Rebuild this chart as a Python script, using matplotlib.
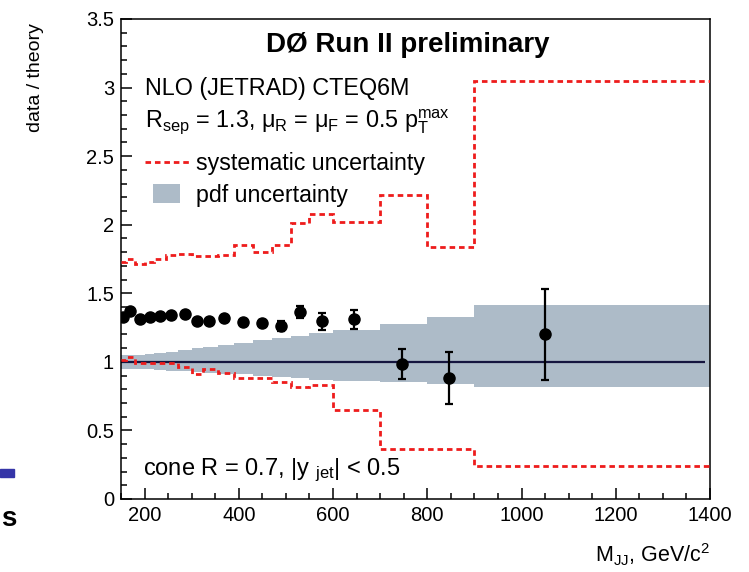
import numpy as np
import matplotlib
matplotlib.use('Agg')
import matplotlib.pyplot as plt
from matplotlib.ticker import MultipleLocator, FuncFormatter
from matplotlib.patches import Rectangle
from matplotlib.legend_handler import HandlerPatch

plt.rcParams['font.family'] = ['Liberation Sans', 'DejaVu Sans']
plt.rcParams['mathtext.fontset'] = 'custom'
plt.rcParams['mathtext.rm'] = 'Liberation Sans'
plt.rcParams['mathtext.it'] = 'Liberation Sans:italic'
plt.rcParams['mathtext.bf'] = 'Liberation Sans:bold'

# dijet mass bins (GeV/c^2)
edges = [150, 160, 180, 200, 220, 245, 270, 300, 325, 355, 390, 430, 470,
         510, 550, 600, 700, 800, 900, 1400]

# systematic uncertainty band (upper / lower)
sys_up = [1.73, 1.75, 1.71, 1.73, 1.75, 1.78, 1.79, 1.77, 1.77, 1.78, 1.85,
          1.80, 1.85, 2.01, 2.08, 2.02, 2.22, 1.84, 3.05]
sys_dn = [1.015, 1.035, 0.99, 0.99, 0.99, 0.99, 0.966, 0.91, 0.945, 0.92,
          0.88, 0.88, 0.85, 0.82, 0.83, 0.65, 0.365, 0.365, 0.24]

# pdf uncertainty band
pdf_up = [1.05, 1.05, 1.05, 1.055, 1.065, 1.075, 1.085, 1.10, 1.11, 1.125,
          1.14, 1.16, 1.175, 1.19, 1.21, 1.235, 1.277, 1.33, 1.416]
pdf_dn = [0.95, 0.95, 0.95, 0.945, 0.94, 0.935, 0.93, 0.925, 0.92, 0.915,
          0.91, 0.90, 0.89, 0.88, 0.87, 0.86, 0.855, 0.84, 0.82]

# data points
mass = [155, 169, 190, 211, 233, 256, 286, 311, 337, 369, 409, 449, 490,
        530, 577, 645, 746, 846, 1050]
ratio = [1.33, 1.37, 1.31, 1.33, 1.335, 1.34, 1.35, 1.30, 1.30, 1.32, 1.29,
         1.285, 1.26, 1.365, 1.295, 1.31, 0.985, 0.88, 1.20]
err = [0.01, 0.01, 0.01, 0.01, 0.01, 0.01, 0.01, 0.01, 0.01, 0.01, 0.015,
       0.02, 0.035, 0.045, 0.06, 0.07, 0.11, 0.19, 0.333]

fig = plt.figure(figsize=(7.49, 5.72), dpi=100)
ax = fig.add_axes([121/749, 73/572, 589/749, 480/572])

band = ax.stairs(pdf_up, edges, baseline=pdf_dn, fill=True,
                 color='#adbbc8', lw=0, label='pdf uncertainty', zorder=1)
ax.hlines(1.0, 150, 1390, color='#15153f', lw=1.6, zorder=2)
sysl = ax.stairs(sys_up, edges, baseline=None, color='#ee1c1c', lw=2.0,
                 ls=(0, (2.0, 1.4)), label='systematic uncertainty', zorder=3)
ax.stairs(sys_dn, edges, baseline=None, color='#ee1c1c', lw=2.0,
          ls=(0, (2.0, 1.4)), zorder=3)
ax.errorbar(mass, ratio, yerr=err, fmt='o', color='black', ms=8,
            elinewidth=1.6, capsize=3, capthick=1.6, zorder=4)

ax.set_xlim(150, 1400)
ax.set_ylim(0, 3.5)
ax.xaxis.set_major_locator(MultipleLocator(200))
ax.xaxis.set_minor_locator(MultipleLocator(50))
ax.yaxis.set_major_locator(MultipleLocator(0.5))
ax.yaxis.set_minor_locator(MultipleLocator(0.1))
ax.yaxis.set_major_formatter(FuncFormatter(lambda v, p: '%g' % v))
ax.tick_params(which='both', direction='in', top=False, right=False,
               labelsize=14.5, width=1.1)
ax.tick_params(which='major', length=8, pad=5)
ax.tick_params(which='minor', length=4.5)
for s in ax.spines.values():
    s.set_linewidth(1.1)

ax.set_xlabel(r'M$_{\rm JJ}$, GeV/c$^{2}$', fontsize=15.5, loc='right',
              labelpad=12)
ax.set_ylabel('data / theory', fontsize=14)
ax.yaxis.set_label_coords(-0.130, 0.877)

ax.text(0.486, 0.946, 'DØ Run II preliminary', transform=ax.transAxes,
        fontsize=20, fontweight='bold', ha='center', va='center')
ax.text(0.041, 0.856, 'NLO (JETRAD) CTEQ6M', transform=ax.transAxes,
        fontsize=16.8, ha='left', va='center')
ax.text(0.041, 0.787,
        r'R$_{\rm sep}$ = 1.3, μ$_{\rm R}$ = μ$_{\rm F}$ = 0.5 p$_{\rm T}^{\rm max}$',
        transform=ax.transAxes, fontsize=16.8, ha='left', va='center')
ax.text(0.037, 0.06, r'cone R = 0.7, |y $_{\rm jet}$| < 0.5',
        transform=ax.transAxes, fontsize=17, ha='left', va='center')


def small_box(legend, orig_handle, xdescent, ydescent, width, height, fontsize):
    return Rectangle((width * 0.17 - xdescent, -ydescent - height * 0.1),
                     width * 0.62, height * 1.2)


ax.legend(handles=[sysl, band], loc='upper left',
          bbox_to_anchor=(0.041, 0.723), frameon=False, fontsize=16.7,
          handlelength=1.9, handletextpad=0.3, labelspacing=0.38,
          borderaxespad=0, borderpad=0,
          handler_map={band: HandlerPatch(patch_func=small_box)})

# bits of the slide visible at the left edge
fig.patches.append(Rectangle((0, 95/572), 14/749, 8/572, color='#3535a8',
                             transform=fig.transFigure, figure=fig))
fig.text(1/749, 1 - 519/572, 's', fontsize=20, fontweight='bold',
         ha='left', va='center')

fig.savefig('out.png', dpi=100)
